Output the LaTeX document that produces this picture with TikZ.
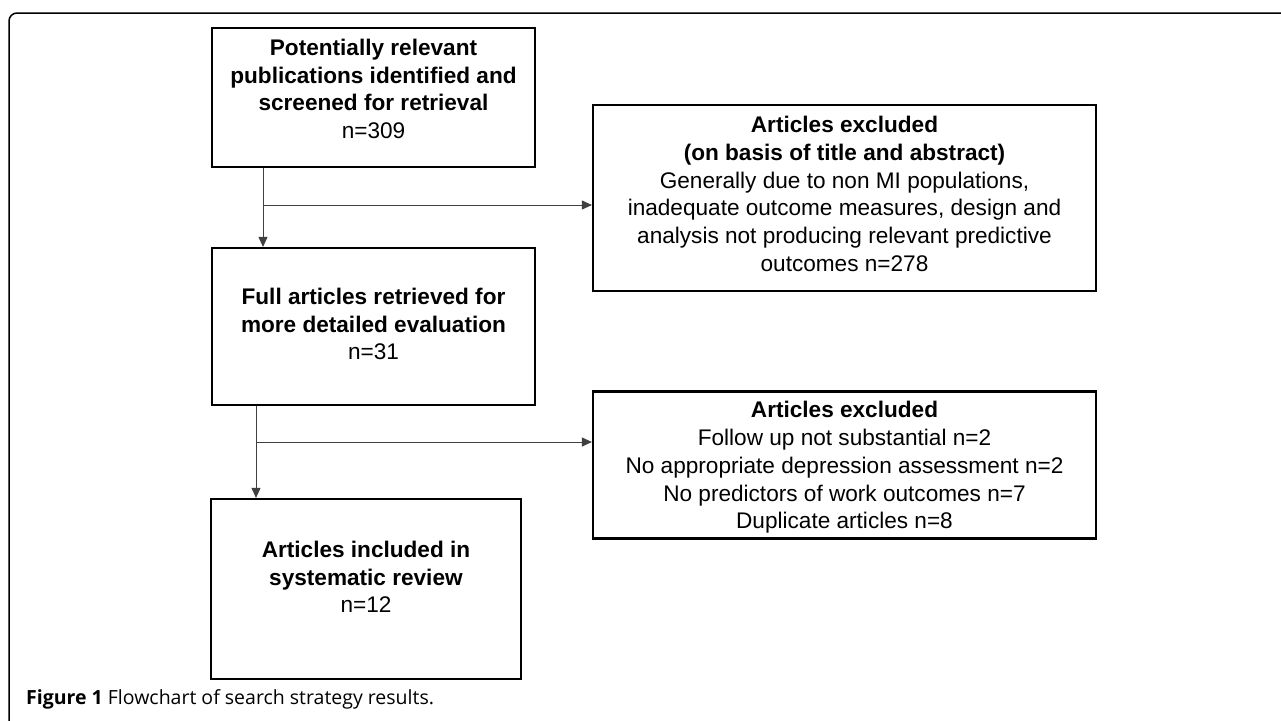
\documentclass[tikz,border=0pt]{standalone}
\usepackage{fontspec}
\setmainfont{Liberation Sans}
\newfontfamily\capfont{Open Sans}
\usetikzlibrary{arrows.meta}
\begin{document}
\begin{tikzpicture}[x=1pt,y=-1pt,
 box/.style={draw=black,line width=2.2pt,inner sep=0pt},
 txt/.style={align=center,font=\fontsize{22.6}{27.7}\selectfont,inner sep=0pt},
 conn/.style={line width=1pt,draw=black!75},
 arr/.style={conn,-{Triangle[length=10pt,width=9pt]}}]
\useasboundingbox (0,0) rectangle (1281,720);
\draw[line width=1.5pt,rounded corners=8pt] (9,725) -- (9,13) -- (1290,13);

\node[box,minimum width=323pt,minimum height=139pt] (b1) at (373.5,97.5) {};
\node[box,minimum width=503pt,minimum height=186pt] (b2) at (844.5,198) {};
\node[box,minimum width=323pt,minimum height=157pt] (b3) at (373.5,326.5) {};
\node[box,minimum width=310pt,minimum height=180pt] (b4) at (366,589) {};
\node[box,minimum width=503pt,minimum height=147pt] (b5) at (844.5,465) {};

\node[txt] (t1) at (373.5,89) {\textbf{Potentially relevant}\\\textbf{publications identified and}\\\textbf{screened for retrieval}\\n=309};
\node[txt] (t2) at (844.5,194) {\textbf{Articles excluded}\\\textbf{(on basis of title and abstract)}\\Generally due to non MI populations,\\inadequate outcome measures, design and\\analysis not producing relevant predictive\\outcomes n=278};
\node[txt] (t3) at (373.5,324) {\textbf{Full articles retrieved for}\\\textbf{more detailed evaluation}\\n=31};
\node[txt] (t4) at (366,577) {\textbf{Articles included in}\\\textbf{systematic review}\\n=12};
\node[txt] (t5) at (844.5,467.5) {\textbf{Articles excluded}\\Follow up not substantial n=2\\No appropriate depression assessment n=2\\No predictors of work outcomes n=7\\Duplicate articles n=8};

\coordinate (j1) at (263,205);
\draw[conn] (b1.south -| j1) -- (j1);
\draw[arr] (j1) -- (j1 |- b3.north);
\draw[arr] (j1) -- (j1 -| b2.west);

\coordinate (j2) at (256,442);
\draw[conn] (b3.south -| j2) -- (j2);
\draw[arr] (j2) -- (j2 |- b4.north);
\draw[arr] (j2) -- (j2 -| b5.west);

\node[anchor=base west,inner sep=0pt,font=\capfont\fontsize{19.5}{22}\selectfont] (cap) at (26,704) {\textbf{Figure 1} Flowchart of search strategy results.};
\end{tikzpicture}
\end{document}
